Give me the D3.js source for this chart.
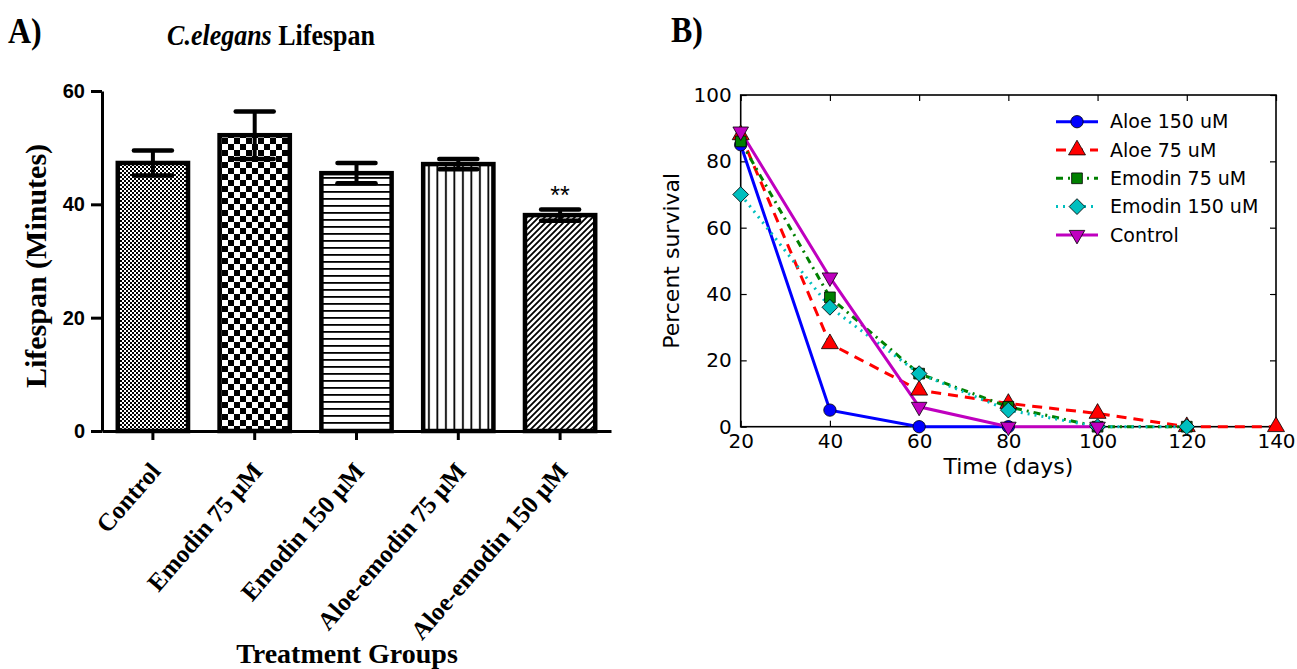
<!DOCTYPE html>
<html><head><meta charset="utf-8">
<script src="https://cdn.jsdelivr.net/npm/d3@7"></script>
<style>body{margin:0;background:#fff;} svg{display:block}</style>
</head><body>
<svg id="c" width="1297" height="669"></svg>
<script>
// ---------- Panel A data ----------
const groups = ["Control", "Emodin 75 µM", "Emodin 150 µM", "Aloe-emodin 75 µM", "Aloe-emodin 150 µM"];
const lifespanMean = [47.3, 52.2, 45.5, 47.1, 38.1];
const lifespanErr = [2.2, 4.2, 1.8, 0.9, 1.0];
const lifespanTicks = [0, 20, 40, 60];
const signif = ["", "", "", "", "**"];
// ---------- Panel B data ----------
const days = [20, 40, 60, 80, 100, 120, 140];
const seriesNames = ["Aloe 150 uM", "Aloe 75 uM", "Emodin 75 uM", "Emodin 150 uM", "Control"];
const survAloe150 = [85, 5, 0, 0];
const survAloe75 = [88, 25, 11, 7, 4, 0, 0];
const survEmodin75 = [86, 39, 16, 6, 0, 0];
const survEmodin150 = [70, 36, 16, 5, 0, 0];
const survControl = [89, 45, 6, 0, 0];
const survTicksY = [0, 20, 40, 60, 80, 100];
const survTicksX = [20, 40, 60, 80, 100, 120, 140];

const svg = d3.select("#c");
const defs = svg.append("defs");
const serif = "'Liberation Serif','Times New Roman',serif";
const sans = "'Liberation Sans',Arial,sans-serif";
const dv = "'DejaVu Sans',sans-serif";

// ---------- patterns ----------
function pat(id, w, h, draw) {
  const p = defs.append("pattern").attr("id", id).attr("patternUnits", "userSpaceOnUse")
    .attr("width", w).attr("height", h);
  p.append("rect").attr("width", w).attr("height", h).attr("fill", "#fff");
  draw(p);
}
pat("pFine", 4, 4, p => {
  p.append("rect").attr("width", 2).attr("height", 2);
  p.append("rect").attr("x", 2).attr("y", 2).attr("width", 2).attr("height", 2);
});
pat("pChk", 12, 12, p => {
  p.append("rect").attr("width", 6).attr("height", 6);
  p.append("rect").attr("x", 6).attr("y", 6).attr("width", 6).attr("height", 6);
});
pat("pHor", 7, 7, p => p.append("rect").attr("y", 2).attr("width", 7).attr("height", 1.8));
pat("pVer", 8.5, 8.5, p => p.append("rect").attr("x", 3).attr("width", 1.8).attr("height", 8.5));
pat("pDiag", 6, 6, p => p.append("path").attr("d", "M-1,1 L1,-1 M0,6 L6,0 M5,7 L7,5")
  .attr("stroke", "#000").attr("stroke-width", 1.8));
const fills = ["url(#pFine)", "url(#pChk)", "url(#pHor)", "url(#pVer)", "url(#pDiag)"];

// ---------- Panel A ----------
const xA = d3.scaleBand().domain(groups).range([102, 611]).paddingInner(0.31).paddingOuter(0.155);
const yA = d3.scaleLinear().domain([0, 60]).range([431, 91]);
const gA = svg.append("g");

gA.selectAll("rect.bar").data(groups).join("rect").attr("class", "bar")
  .attr("x", d => xA(d)).attr("width", xA.bandwidth())
  .attr("y", (d, i) => yA(lifespanMean[i])).attr("height", (d, i) => yA(0) - yA(lifespanMean[i]))
  .attr("fill", (d, i) => fills[i]).attr("stroke", "#000").attr("stroke-width", 4.5);

const capW = 38;
groups.forEach((g, i) => {
  const cx = xA(g) + xA.bandwidth() / 2;
  const lo = yA(lifespanMean[i] - lifespanErr[i]), hi = yA(lifespanMean[i] + lifespanErr[i]);
  gA.append("line").attr("x1", cx).attr("x2", cx).attr("y1", lo).attr("y2", hi)
    .attr("stroke", "#000").attr("stroke-width", 4);
  [lo, hi].forEach(y => gA.append("line").attr("x1", cx - capW / 2).attr("x2", cx + capW / 2)
    .attr("y1", y).attr("y2", y).attr("stroke", "#000").attr("stroke-width", 4.5).attr("stroke-linecap", "round"));
  if (signif[i]) gA.append("text").attr("x", cx).attr("y", hi - 5).attr("text-anchor", "middle")
    .attr("font-family", sans).attr("font-size", 25).text(signif[i]);
});

const axL = gA.append("g").attr("transform", "translate(102,0)")
  .call(d3.axisLeft(yA).tickValues(lifespanTicks).tickSize(11).tickSizeOuter(0).tickPadding(6));
axL.select(".domain").attr("stroke-width", 3);
axL.selectAll(".tick line").attr("stroke-width", 3);
axL.selectAll(".tick text").attr("font-family", sans).attr("font-weight", "bold").attr("font-size", 20);

const axB = gA.append("g").attr("transform", "translate(0,431)")
  .call(d3.axisBottom(xA).tickSize(9).tickSizeOuter(0).tickFormat(""));
axB.select(".domain").attr("stroke-width", 3);
axB.selectAll(".tick line").attr("stroke-width", 3);

groups.forEach(g => {
  const cx = xA(g) + xA.bandwidth() / 2;
  gA.append("text").attr("transform", `translate(${cx + 9},${472}) rotate(-49)`)
    .attr("text-anchor", "end").attr("font-family", serif).attr("font-weight", "bold")
    .attr("font-size", 25).text(g);
});

gA.append("text").attr("x", 347).attr("y", 663).attr("text-anchor", "middle")
  .attr("font-family", serif).attr("font-weight", "bold").attr("font-size", 28).text("Treatment Groups");
gA.append("text").attr("transform", "translate(46,266) rotate(-90)").attr("text-anchor", "middle")
  .attr("font-family", serif).attr("font-weight", "bold").attr("font-size", 30).text("Lifespan (Minutes)");
const ttl = gA.append("text").attr("transform", "translate(271,45) scale(1,1.15)").attr("text-anchor", "middle")
  .attr("font-family", serif).attr("font-weight", "bold").attr("font-size", 26);
ttl.append("tspan").attr("font-style", "italic").text("C.elegans");
ttl.append("tspan").text(" Lifespan");
svg.append("text").attr("transform", "translate(8,43) scale(1,1.15)").attr("font-family", serif).attr("font-weight", "bold")
  .attr("font-size", 32).text("A)");
svg.append("text").attr("transform", "translate(671,42) scale(1,1.15)").attr("font-family", serif).attr("font-weight", "bold")
  .attr("font-size", 32).text("B)");

// ---------- Panel B ----------
const xB = d3.scaleLinear().domain([20, 140]).range([740.7, 1276]);
const yB = d3.scaleLinear().domain([0, 100]).range([426.7, 95]);
const gB = svg.append("g");

const series = [
  { name: seriesNames[0], vals: survAloe150, color: "#0000ff", dash: null, sym: "circle" },
  { name: seriesNames[1], vals: survAloe75, color: "#ff0000", dash: "10,7", sym: "tri" },
  { name: seriesNames[2], vals: survEmodin75, color: "#008000", dash: "7,5,2,5", sym: "square" },
  { name: seriesNames[3], vals: survEmodin150, color: "#00bfbf", dash: "2,5", sym: "diamond" },
  { name: seriesNames[4], vals: survControl, color: "#bf00bf", dash: null, sym: "vtri" }
];
function marker(sel, s, x, y) {
  let path, tr = `translate(${x},${y})`;
  if (s.sym === "circle") path = d3.symbol(d3.symbolCircle, 120)();
  else if (s.sym === "tri") path = d3.symbol(d3.symbolTriangle, 125)();
  else if (s.sym === "square") path = d3.symbol(d3.symbolSquare, 115)();
  else if (s.sym === "diamond") { path = d3.symbol(d3.symbolSquare, 125)(); tr += " rotate(45)"; }
  else { path = d3.symbol(d3.symbolTriangle, 105)(); tr += " rotate(180)"; }
  sel.append("path").attr("d", path).attr("transform", tr).attr("fill", s.color)
    .attr("stroke", "#000").attr("stroke-width", 0.8);
}

// frame
gB.append("rect").attr("x", xB(20)).attr("y", yB(100)).attr("width", xB(140) - xB(20))
  .attr("height", yB(0) - yB(100)).attr("fill", "none").attr("stroke", "#000").attr("stroke-width", 1.6);
const axBL = gB.append("g").attr("transform", `translate(${xB(20)},0)`)
  .call(d3.axisLeft(yB).tickValues(survTicksY).tickSize(-6).tickSizeOuter(0).tickPadding(9));
const axBB = gB.append("g").attr("transform", `translate(0,${yB(0)})`)
  .call(d3.axisBottom(xB).tickValues(survTicksX).tickSize(-6).tickSizeOuter(0).tickPadding(7));
const axBR = gB.append("g").attr("transform", `translate(${xB(140)},0)`)
  .call(d3.axisRight(yB).tickValues(survTicksY).tickSize(-6).tickSizeOuter(0).tickFormat(""));
const axBT = gB.append("g").attr("transform", `translate(0,${yB(100)})`)
  .call(d3.axisTop(xB).tickValues(survTicksX).tickSize(-6).tickSizeOuter(0).tickFormat(""));
[axBL, axBB, axBR, axBT].forEach(a => {
  a.select(".domain").remove();
  a.selectAll(".tick line").attr("stroke-width", 1.2);
  a.selectAll(".tick text").attr("font-family", dv).attr("font-size", 20).attr("fill", "#000");
});

const line = d3.line().x((d, i) => xB(days[i])).y(d => yB(d));
series.forEach(s => {
  gB.append("path").attr("d", line(s.vals)).attr("fill", "none").attr("stroke", s.color)
    .attr("stroke-width", 3).attr("stroke-dasharray", s.dash);
});
series.forEach(s => {
  s.vals.forEach((v, i) => marker(gB, s, xB(days[i]), yB(v)));
});

gB.append("text").attr("x", (xB(20) + xB(140)) / 2).attr("y", 474).attr("text-anchor", "middle")
  .attr("font-family", dv).attr("font-size", 22).text("Time (days)");
gB.append("text").attr("transform", `translate(679,${(yB(0) + yB(100)) / 2}) rotate(-90)`)
  .attr("text-anchor", "middle").attr("font-family", dv).attr("font-size", 22).text("Percent survival");

// legend
series.forEach((s, i) => {
  const y = 121.7 + i * 28.3;
  gB.append("line").attr("x1", 1056).attr("x2", 1098).attr("y1", y).attr("y2", y)
    .attr("stroke", s.color).attr("stroke-width", 3).attr("stroke-dasharray", s.dash);
  marker(gB, s, 1077, y);
  gB.append("text").attr("x", 1110).attr("y", y).attr("dy", "0.35em").attr("font-family", dv)
    .attr("font-size", 19).text(s.name);
});
</script>
</body></html>
